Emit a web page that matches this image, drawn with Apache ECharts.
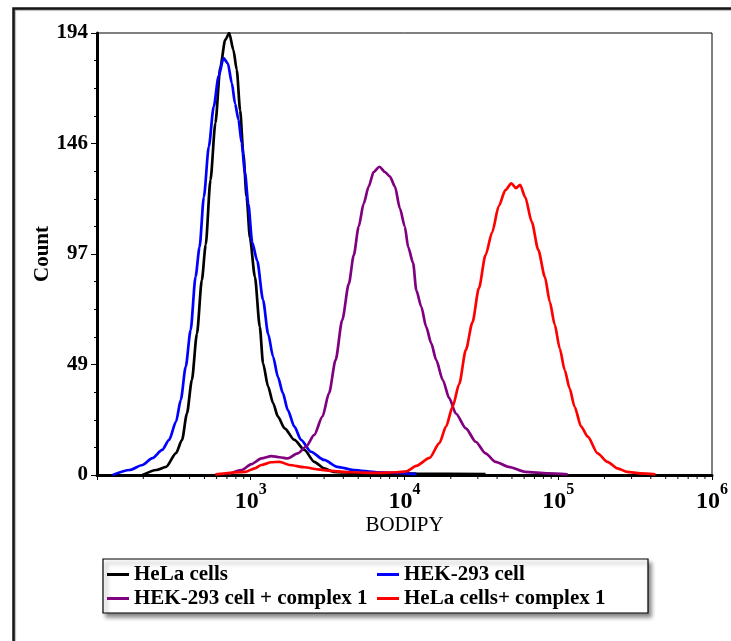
<!DOCTYPE html>
<html>
<head>
<meta charset="utf-8">
<title>BODIPY uptake histogram</title>
<script src="https://cdn.jsdelivr.net/npm/echarts@6/dist/echarts.min.js"></script>
<style>
  html, body { margin: 0; padding: 0; background: #fff; }
  #chart { width: 731px; height: 641px; }
</style>
</head>
<body>
<div id="chart"></div>
<script>
// Flow-cytometry histograms: BODIPY fluorescence (log10 of intensity) vs. cell count.
const seriesNames = ['HeLa cells', 'HEK-293 cell', 'HEK-293 cell + complex 1', 'HeLa cells+ complex 1'];
const seriesColors = ['#000000', '#0000ff', '#800080', '#ff0000'];

const helaExp = [2.296, 2.386, 2.450, 2.514, 2.553, 2.585, 2.617, 2.650, 2.682, 2.707, 2.738, 2.770, 2.802, 2.834, 2.860,
  2.887, 2.909, 2.931, 2.952, 2.973, 2.995, 3.027, 3.059, 3.080, 3.113, 3.145, 3.177, 3.220, 3.284, 3.349, 3.413,
  3.477, 3.541, 3.691, 4.077, 4.527];
const helaCount = [0, 2.2, 3.6, 9.6, 15.4, 27, 41.7, 62, 85.6, 101, 129.5, 154.5, 179, 191, 194,
  186.6, 177.8, 160, 141, 122, 104, 87, 65, 49, 38.8, 31.6, 25.6, 20.5, 15.4, 11, 5.8,
  2.9, 1.4, 0.8, 0.6, 0.4];

const hekExp = [2.103, 2.212, 2.296, 2.360, 2.424, 2.469, 2.514, 2.545, 2.577, 2.609, 2.641, 2.667, 2.695, 2.727, 2.759,
  2.791, 2.823, 2.851, 2.877, 2.898, 2.920, 2.941, 2.963, 2.984, 3.010, 3.042, 3.080, 3.113, 3.145, 3.177, 3.209,
  3.241, 3.284, 3.327, 3.391, 3.477, 3.563, 3.670, 3.820, 4.077];
const hekCount = [0, 2.2, 4.4, 7.4, 11, 15.4, 23.4, 33, 47.5, 63.6, 87, 100, 122, 144, 161.7,
  175, 183, 180.7, 172, 163, 156, 145.6, 132.4, 119, 102, 94, 76.8, 62, 52, 43, 35.9,
  28.5, 21.2, 15.4, 10.2, 6.6, 3.6, 2.2, 1.2, 0.4];

const hekComplexExp = [2.855, 2.941, 3.005, 3.069, 3.134, 3.188, 3.241, 3.305, 3.359, 3.413, 3.466, 3.509, 3.552, 3.595,
  3.638, 3.670, 3.702, 3.734, 3.767, 3.799, 3.837, 3.873, 3.905, 3.938, 3.970, 4.002, 4.024, 4.056, 4.077, 4.109,
  4.141, 4.174, 4.206, 4.249, 4.291, 4.334, 4.399, 4.463, 4.527, 4.592, 4.677, 4.785, 4.932, 5.061];
const hekComplexCount = [0.3, 2.2, 4.8, 7.3, 8.3, 7.8, 7.3, 9.5, 12.4, 17.6, 25.6, 35.9, 50.5, 68,
  84, 96.5, 109, 119, 126.6, 133, 135.3, 133, 131, 126.6, 117, 109, 100, 93, 81, 73.9,
  65, 57.8, 50.5, 41.7, 33.7, 27, 20.5, 14.6, 9.5, 5.8, 3.6, 1.4, 0.7, 0.3];

const helaComplexExp = [2.770, 2.963, 3.027, 3.069, 3.134, 3.188, 3.252, 3.349, 3.434, 3.520, 3.648, 3.820, 3.949, 4.013,
  4.077, 4.163, 4.227, 4.270, 4.313, 4.356, 4.399, 4.442, 4.484, 4.527, 4.570, 4.613, 4.656, 4.695, 4.725, 4.752,
  4.785, 4.828, 4.870, 4.913, 4.945, 4.977, 5.010, 5.042, 5.074, 5.106, 5.149, 5.192, 5.256, 5.320, 5.385, 5.449,
  5.535, 5.632];
const helaComplexCount = [0.3, 1.4, 2.9, 4.4, 5.6, 5.8, 4.4, 3.4, 2.5, 1.8, 1.2, 0.9, 1.2, 1.6,
  4, 7.5, 14, 21.2, 30, 40, 54.9, 67, 82, 96.5, 106.5, 118, 125, 128, 125.9, 127.3,
  122, 111, 98.8, 87, 76, 66, 55.5, 46, 38, 30, 21.2, 16.8, 9.5, 5.8, 2.9, 1.4,
  0.7, 0.3];

// Axis ticks and labels
const yTickLabels = ['0', '49', '97', '146', '194'];
const xLabelExponents = [3, 4, 5, 6];
const minorDecades = [2, 3, 4, 5];
const minorMultiples = [2, 3, 4, 5, 6, 7, 8, 9];

const minorTickValues = [];
minorDecades.forEach(function (d) {
  minorMultiples.forEach(function (m) { minorTickValues.push([m * Math.pow(10, d), 0]); });
});

function toPairs(exps, counts) {
  return exps.map(function (e, i) { return [Math.pow(10, e), counts[i]]; });
}

const curveData = [
  toPairs(helaExp, helaCount),
  toPairs(hekExp, hekCount),
  toPairs(hekComplexExp, hekComplexCount),
  toPairs(helaComplexExp, helaComplexCount)
];

const serif = '"Liberation Serif", "Times New Roman", serif';

const lineSeries = seriesNames.map(function (name, i) {
  return {
    name: name,
    type: 'line',
    data: curveData[i],
    showSymbol: false,
    symbol: 'none',
    smooth: 0.25,
    smoothMonotone: 'x',
    color: seriesColors[i],
    lineStyle: { color: seriesColors[i], width: 2.7 },
    itemStyle: { color: seriesColors[i] },
    z: 3 + i
  };
});

// short log-spaced ticks under the x axis
const minorTickSeries = {
  name: 'minor-ticks',
  type: 'custom',
  silent: true,
  clip: false,
  z: 10,
  data: minorTickValues,
  renderItem: function (params, api) {
    const p = api.coord([api.value(0), 0]);
    return {
      type: 'line',
      shape: { x1: p[0], y1: p[1] + 1, x2: p[0], y2: p[1] + 4 },
      style: { stroke: '#000', lineWidth: 1 }
    };
  }
};

const chart = echarts.init(document.getElementById('chart'), null, { renderer: 'canvas' });

chart.setOption({
  animation: false,
  backgroundColor: '#ffffff',
  graphic: [{
    type: 'rect',
    left: 11,
    top: 6,
    shape: { width: 760, height: 680 },
    style: { fill: 'none', stroke: '#151515', lineWidth: 2.5, shadowColor: 'rgba(0,0,0,0.35)', shadowOffsetX: 1, shadowOffsetY: 1, shadowBlur: 1 },
    silent: true,
    z: 0
  }],
  grid: {
    left: 97,
    right: 12,
    top: 33,
    bottom: 166,
    show: true,
    borderColor: '#000',
    borderWidth: 1,
    backgroundColor: 'transparent'
  },
  legend: {
    data: seriesNames,
    left: 103,
    top: 559,
    width: 540,
    orient: 'horizontal',
    icon: 'rect',
    itemWidth: 22,
    itemHeight: 3,
    itemGap: 3,
    padding: [5, 4, 4, 4],
    backgroundColor: '#ffffff',
    borderColor: '#000',
    borderWidth: 1.2,
    shadowColor: 'rgba(0,0,0,0.45)',
    shadowBlur: 4,
    shadowOffsetX: 3,
    shadowOffsetY: 4,
    selectedMode: false,
    formatter: function (name) { return '{t|' + name + '}'; },
    textStyle: {
      fontFamily: serif,
      fontWeight: 'bold',
      fontSize: 21,
      color: '#000',
      rich: {
        t: { fontFamily: serif, fontWeight: 'bold', fontSize: 21, lineHeight: 21, color: '#000', width: 240 }
      }
    }
  },
  xAxis: {
    type: 'log',
    logBase: 10,
    min: 100,
    max: 1000000,
    splitNumber: 4,
    name: 'BODIPY',
    nameLocation: 'middle',
    nameGap: 40,
    nameMoveOverlap: false,
    nameTextStyle: { fontFamily: serif, fontSize: 21, color: '#000' },
    axisLine: { show: true, onZero: false, lineStyle: { color: '#000', width: 3 } },
    axisTick: { show: true, inside: false, length: 5, lineStyle: { color: '#000', width: 1 } },
    minorTick: { show: false },
    splitLine: { show: false },
    axisLabel: {
      margin: 7,
      showMinLabel: true,
      showMaxLabel: true,
      formatter: function (value) {
        const e = Math.round(Math.log10(value));
        if (xLabelExponents.indexOf(e) < 0) return '';
        return '{b|10}{s|' + e + '}';
      },
      rich: {
        b: { fontFamily: serif, fontWeight: 'bold', fontSize: 24, lineHeight: 32, color: '#000', verticalAlign: 'bottom' },
        s: { fontFamily: serif, fontWeight: 'bold', fontSize: 16, lineHeight: 20, color: '#000', verticalAlign: 'top' }
      }
    }
  },
  yAxis: {
    type: 'value',
    min: 0,
    max: 194,
    interval: 48.5,
    name: 'Count',
    nameLocation: 'middle',
    nameRotate: 90,
    nameGap: 44,
    nameMoveOverlap: false,
    nameTextStyle: { fontFamily: serif, fontWeight: 'bold', fontSize: 21, color: '#000' },
    axisLine: { show: true, onZero: false, lineStyle: { color: '#000', width: 3 } },
    axisTick: { show: true, inside: false, length: 6, lineStyle: { color: '#000', width: 1 } },
    minorTick: { show: true, splitNumber: 4, length: 3, lineStyle: { color: '#000', width: 1 } },
    splitLine: { show: false },
    axisLabel: {
      margin: 9,
      fontFamily: serif,
      fontWeight: 'bold',
      fontSize: 21,
      color: '#000',
      formatter: function (value, index) { return yTickLabels[index]; }
    }
  },
  series: lineSeries.concat([minorTickSeries])
});
</script>
</body>
</html>
